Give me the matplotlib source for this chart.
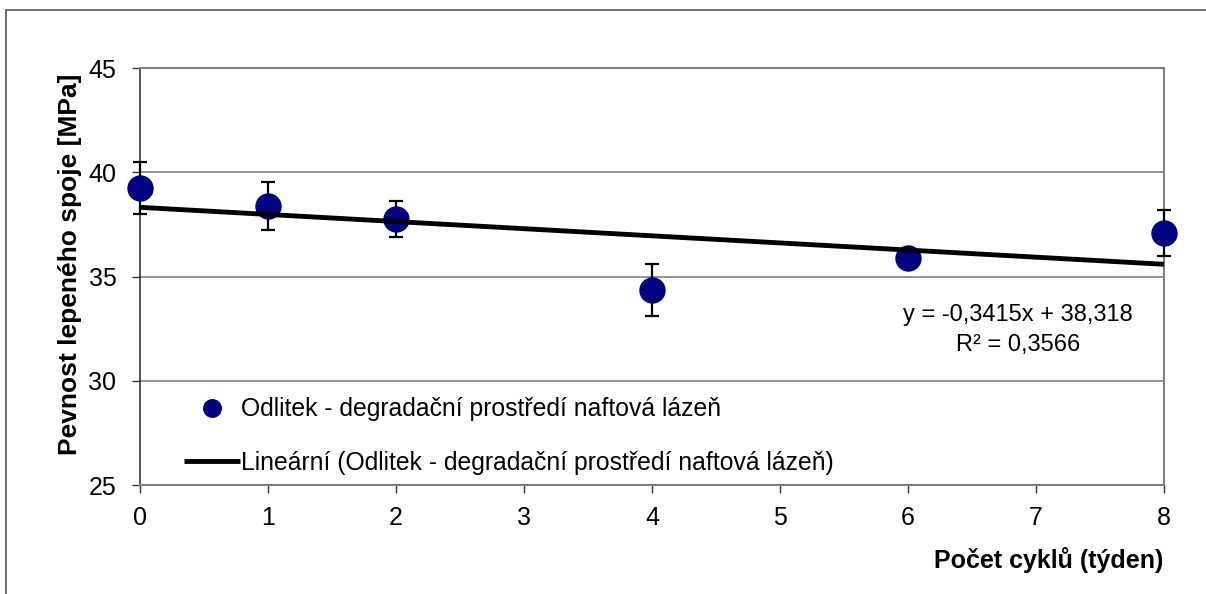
"""
Pevnost lepeného spoje v závislosti na počtu cyklů (naftová lázeň)
"""

import matplotlib
matplotlib.use('Agg')
import matplotlib.pyplot as plt
from matplotlib.patches import Rectangle
import numpy as np

# ─────────────────────────────────────────────
# DATA
# ─────────────────────────────────────────────
cykly     = [0, 1, 2, 4, 6, 8]
pevnost   = [39.24, 38.38, 37.76, 34.35, 35.89, 37.07]
odchylka  = [1.25, 1.15, 0.87, 1.24, 0.30, 1.10]

trend_k   = -0.3415
trend_q   = 38.318
rovnice   = 'y = -0,3415x + 38,318'
r2_text   = 'R² = 0,3566'

nazev_rady  = 'Odlitek - degradační prostředí naftová lázeň'
nazev_trend = 'Lineární (Odlitek - degradační prostředí naftová lázeň)'

y_ticks = [25, 30, 35, 40, 45]
x_ticks = [0, 1, 2, 3, 4, 5, 6, 7, 8]

W, H = 1206, 594

plt.rcParams['font.family'] = ['Liberation Sans', 'DejaVu Sans']


def px(x, y):
    """pixely (od levého horního rohu) -> souřadnice obrázku"""
    return x / W, 1 - y / H


fig = plt.figure(figsize=(W / 100, H / 100), dpi=100)
ax = fig.add_axes([0.1161, 0.1835, 0.849, 0.702])

# rámeček kolem celého obrázku
fig.patches.append(Rectangle((6 / W, -0.01), 1.2, 1 - 10 / H + 0.01,
                             transform=fig.transFigure, fill=False,
                             edgecolor='#555555', linewidth=1.2))

ax.set_xlim(0, 8)
ax.set_ylim(25, 45)
ax.set_yticks(y_ticks)
ax.set_xticks(x_ticks)
ax.grid(axis='y', color='#808080', linewidth=1.2)
ax.set_axisbelow(True)

for side in ['top', 'right', 'bottom']:
    ax.spines[side].set_color('#808080')
    ax.spines[side].set_linewidth(1.5)
ax.spines['left'].set_color('#333333')
ax.spines['left'].set_linewidth(1.2)

ax.tick_params(axis='both', labelsize=18, length=6, width=1.0, color='#333333')
ax.tick_params(axis='x', pad=9)
ax.tick_params(axis='y', pad=11)

# body s chybovými úsečkami
ax.errorbar(cykly, pevnost, yerr=odchylka, fmt='none', ecolor='black',
            elinewidth=1.6, capsize=5, capthick=1.6, clip_on=False, zorder=3)
ax.plot(cykly, pevnost, 'o', color='#000080', markersize=18, clip_on=False,
        zorder=4, label=nazev_rady)

# lineární trend
xt = np.array([min(cykly), max(cykly)])
ax.plot(xt, trend_k * xt + trend_q, color='black', linewidth=3.5,
        solid_capstyle='butt', zorder=5, label=nazev_trend)

fig.text(*px(1018, 315), rovnice, fontsize=17, ha='center', va='center')
fig.text(*px(1018, 345), r2_text, fontsize=17, ha='center', va='center')

leg = ax.legend(loc='center left', bbox_to_anchor=px(184, 436),
                bbox_transform=fig.transFigure, frameon=False,
                fontsize=17.8, markerscale=0.7, handlelength=2.25,
                handletextpad=0.05, labelspacing=1.2, borderpad=0,
                borderaxespad=0)

fig.text(*px(70, 264), 'Pevnost lepeného spoje [MPa]', fontsize=19,
         fontweight='bold', rotation=90, ha='center', va='center')
fig.text(*px(1163, 560), 'Počet cyklů (týden)', fontsize=18,
         fontweight='bold', ha='right', va='center')

plt.savefig('out.png', dpi=100)
